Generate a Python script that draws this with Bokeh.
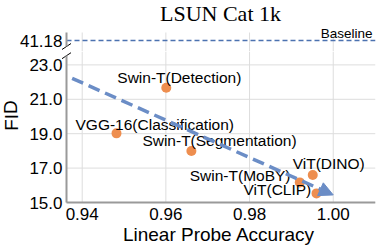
from bokeh.plotting import figure
from bokeh.layouts import column
from bokeh.models import (Range1d, FixedTicker, Label, Arrow, NormalHead,
                          ColumnDataSource, PrintfTickFormatter)
from bokeh.embed import file_html
from bokeh.resources import INLINE
from bokeh.core.properties import value

# ---------------- data ----------------
models = ["Swin-T(Detection)", "VGG-16(Classification)", "Swin-T(Segmentation)",
          "Swin-T(MoBY)", "ViT(DINO)", "ViT(CLIP)"]
accuracy = [0.9601, 0.9482, 0.9661, 0.9920, 0.9951, 0.9960]
fid = [21.67, 19.02, 17.99, 16.17, 16.60, 15.53]
baseline_fid = 41.18
trend_x = [0.9376, 1.000]
trend_y = [22.22, 15.44]
x_ticks = [0.94, 0.96, 0.98, 1.00]
y_ticks = [15.0, 17.0, 19.0, 21.0, 23.0]

# ---------------- layout / style ----------------
label_dx = [-49, -41, -49, -110, -20, -73]
label_dy = [-10.2, -9.1, -10.1, -7.3, -11.2, -4.1]
FONT = "Liberation Sans"
SPINE = "#9a9a9a"
GRID = "#dddddd"
ORANGE = "#EE8E4F"
BLUE = "#6B8DC6"
W = 380
SPINE_PX, RIGHT_PX = 66, 375
X_RANGE = (0.93625, 1.0101)              # data at spine .. right frame edge
xs = (X_RANGE[1] - X_RANGE[0]) / (RIGHT_PX - SPINE_PX)   # data per px
XL = X_RANGE[0] - SPINE_PX * xs          # frame reaches the page's left edge

TOP_PX = 14.3                            # px per FID unit, top panel
Y_TOP = (41.18 - 11 / TOP_PX, 41.18 + 40 / TOP_PX)
Y_TOP_BOUNDS = (41.18 - 6 / TOP_PX, 41.18 + 8 / TOP_PX)
BOT_PX = 17.2                            # px per FID unit, bottom panel
Y_MIN = 15.0
Y_BOT = (Y_MIN - 49 / BOT_PX, Y_MIN + 151 / BOT_PX)
Y_BOT_BOUNDS = (Y_MIN, 23.0 + 9.2 / BOT_PX)

def style_axis(ax):
    ax.axis_line_color = SPINE
    ax.axis_line_width = 2
    ax.major_tick_out = 0
    ax.major_tick_in = 0
    ax.minor_tick_out = 0
    ax.minor_tick_in = 0
    ax.major_label_text_font = FONT
    ax.major_label_text_font_size = "17px"
    ax.major_label_text_color = "black"

def base(p):
    p.outline_line_color = None
    p.background_fill_color = "white"
    p.border_fill_color = "white"
    p.xgrid.visible = False
    p.ygrid.visible = False

# ---------------- top panel (title + baseline) ----------------
p1 = figure(width=W, height=51, x_range=Range1d(XL, X_RANGE[1]), y_range=Range1d(*Y_TOP),
            output_backend="svg", toolbar_location=None,
            min_border_left=0, min_border_right=W - RIGHT_PX, min_border_top=0,
            min_border_bottom=0)
base(p1)
p1.xaxis.visible = False
style_axis(p1.yaxis[0])
p1.yaxis.fixed_location = X_RANGE[0]
p1.yaxis.major_label_standoff = 4
p1.yaxis.bounds = Y_TOP_BOUNDS
p1.yaxis.ticker = FixedTicker(ticks=[baseline_fid])
p1.yaxis.formatter = PrintfTickFormatter(format="%.2f")
# vertical grid lines of the top panel
p1.segment(x0=x_ticks, y0=[Y_TOP[0]] * len(x_ticks), x1=x_ticks,
           y1=[Y_TOP_BOUNDS[1]] * len(x_ticks), line_color=GRID, line_width=1)
p1.segment(x0=[X_RANGE[0]], y0=[baseline_fid], x1=[X_RANGE[1]], y1=[baseline_fid],
           line_color="#4C72B0", line_width=1.5, line_dash="5 3")
p1.add_layout(Label(x=X_RANGE[1], y=baseline_fid, x_offset=-3, y_offset=7, text="Baseline",
                    text_align="right", text_baseline="middle", text_font=FONT,
                    text_font_size="13.5px", text_color="black"))
p1.add_layout(Label(x=X_RANGE[0] + 154 * xs, y=41.18 + 27.5 / TOP_PX, text="LSUN Cat 1k",
                    text_align="center", text_baseline="middle",
                    text_font="Liberation Serif", text_font_size="22px", text_color="black"))
# break mark (top)
p1.segment(x0=[X_RANGE[0] - 4.5 * xs], y0=[Y_TOP_BOUNDS[0] - 3 / TOP_PX],
           x1=[X_RANGE[0] + 4.5 * xs], y1=[Y_TOP_BOUNDS[0] + 3 / TOP_PX],
           line_color="black", line_width=1)

# ---------------- bottom panel ----------------
p2 = figure(width=W, height=200, x_range=Range1d(XL, X_RANGE[1]), y_range=Range1d(*Y_BOT),
            output_backend="svg", toolbar_location=None,
            min_border_left=0, min_border_right=W - RIGHT_PX, min_border_top=0,
            min_border_bottom=0)
base(p2)
style_axis(p2.xaxis[0])
p2.xaxis.fixed_location = Y_MIN
p2.xaxis.bounds = X_RANGE
p2.xaxis.major_label_standoff = 5
p2.xaxis.ticker = FixedTicker(ticks=x_ticks)
p2.xaxis.formatter = PrintfTickFormatter(format="%.2f")
style_axis(p2.yaxis[0])
p2.yaxis.fixed_location = X_RANGE[0]
p2.yaxis.major_label_standoff = 4
p2.yaxis.bounds = Y_BOT_BOUNDS
p2.yaxis.ticker = FixedTicker(ticks=y_ticks)
p2.yaxis.formatter = PrintfTickFormatter(format="%.1f")

# grid lines starting at the spines
p2.segment(x0=x_ticks, y0=[Y_MIN] * len(x_ticks), x1=x_ticks, y1=[Y_BOT[1]] * len(x_ticks),
           line_color=GRID, line_width=1)
p2.segment(x0=[X_RANGE[0]] * len(y_ticks), y0=y_ticks, x1=[X_RANGE[1]] * len(y_ticks),
           y1=y_ticks, line_color=GRID, line_width=1)

# axis titles
p2.add_layout(Label(x=X_RANGE[0] - (SPINE_PX - 10.5) * xs, y=Y_MIN + (202 - 115) / BOT_PX,
                    text="FID", angle=1.5708, text_align="center", text_baseline="middle",
                    text_font=FONT, text_font_size="19px", text_color="black"))
p2.add_layout(Label(x=X_RANGE[0] + 152.5 * xs, y=Y_MIN - 32 / BOT_PX,
                    text="Linear Probe Accuracy", text_align="center", text_baseline="middle",
                    text_font=FONT, text_font_size="19px", text_color="black"))

# break mark (bottom)
p2.segment(x0=[X_RANGE[0] - 4.5 * xs], y0=[Y_BOT_BOUNDS[1] - 3 / BOT_PX],
           x1=[X_RANGE[0] + 4.5 * xs], y1=[Y_BOT_BOUNDS[1] + 3 / BOT_PX],
           line_color="black", line_width=1)

p2.add_layout(Arrow(x_start=trend_x[0], y_start=trend_y[0], x_end=trend_x[1], y_end=trend_y[1],
                    line_color=BLUE, line_width=3.5, line_dash="12 6",
                    end=NormalHead(size=14, fill_color=BLUE, line_color=BLUE, line_width=1)))

src = ColumnDataSource(dict(x=accuracy, y=fid, name=models, dx=label_dx, dy=label_dy))
p2.scatter("x", "y", source=src, size=10, fill_color=ORANGE, line_color=None)
p2.text("x", "y", text="name", source=src, x_offset="dx", y_offset="dy",
        text_font=value(FONT), text_font_size="15.5px", text_align="left",
        text_baseline="middle", text_color="black")

layout = column(p1, p2, spacing=0)
open("out.html", "w").write(file_html(layout, INLINE))
